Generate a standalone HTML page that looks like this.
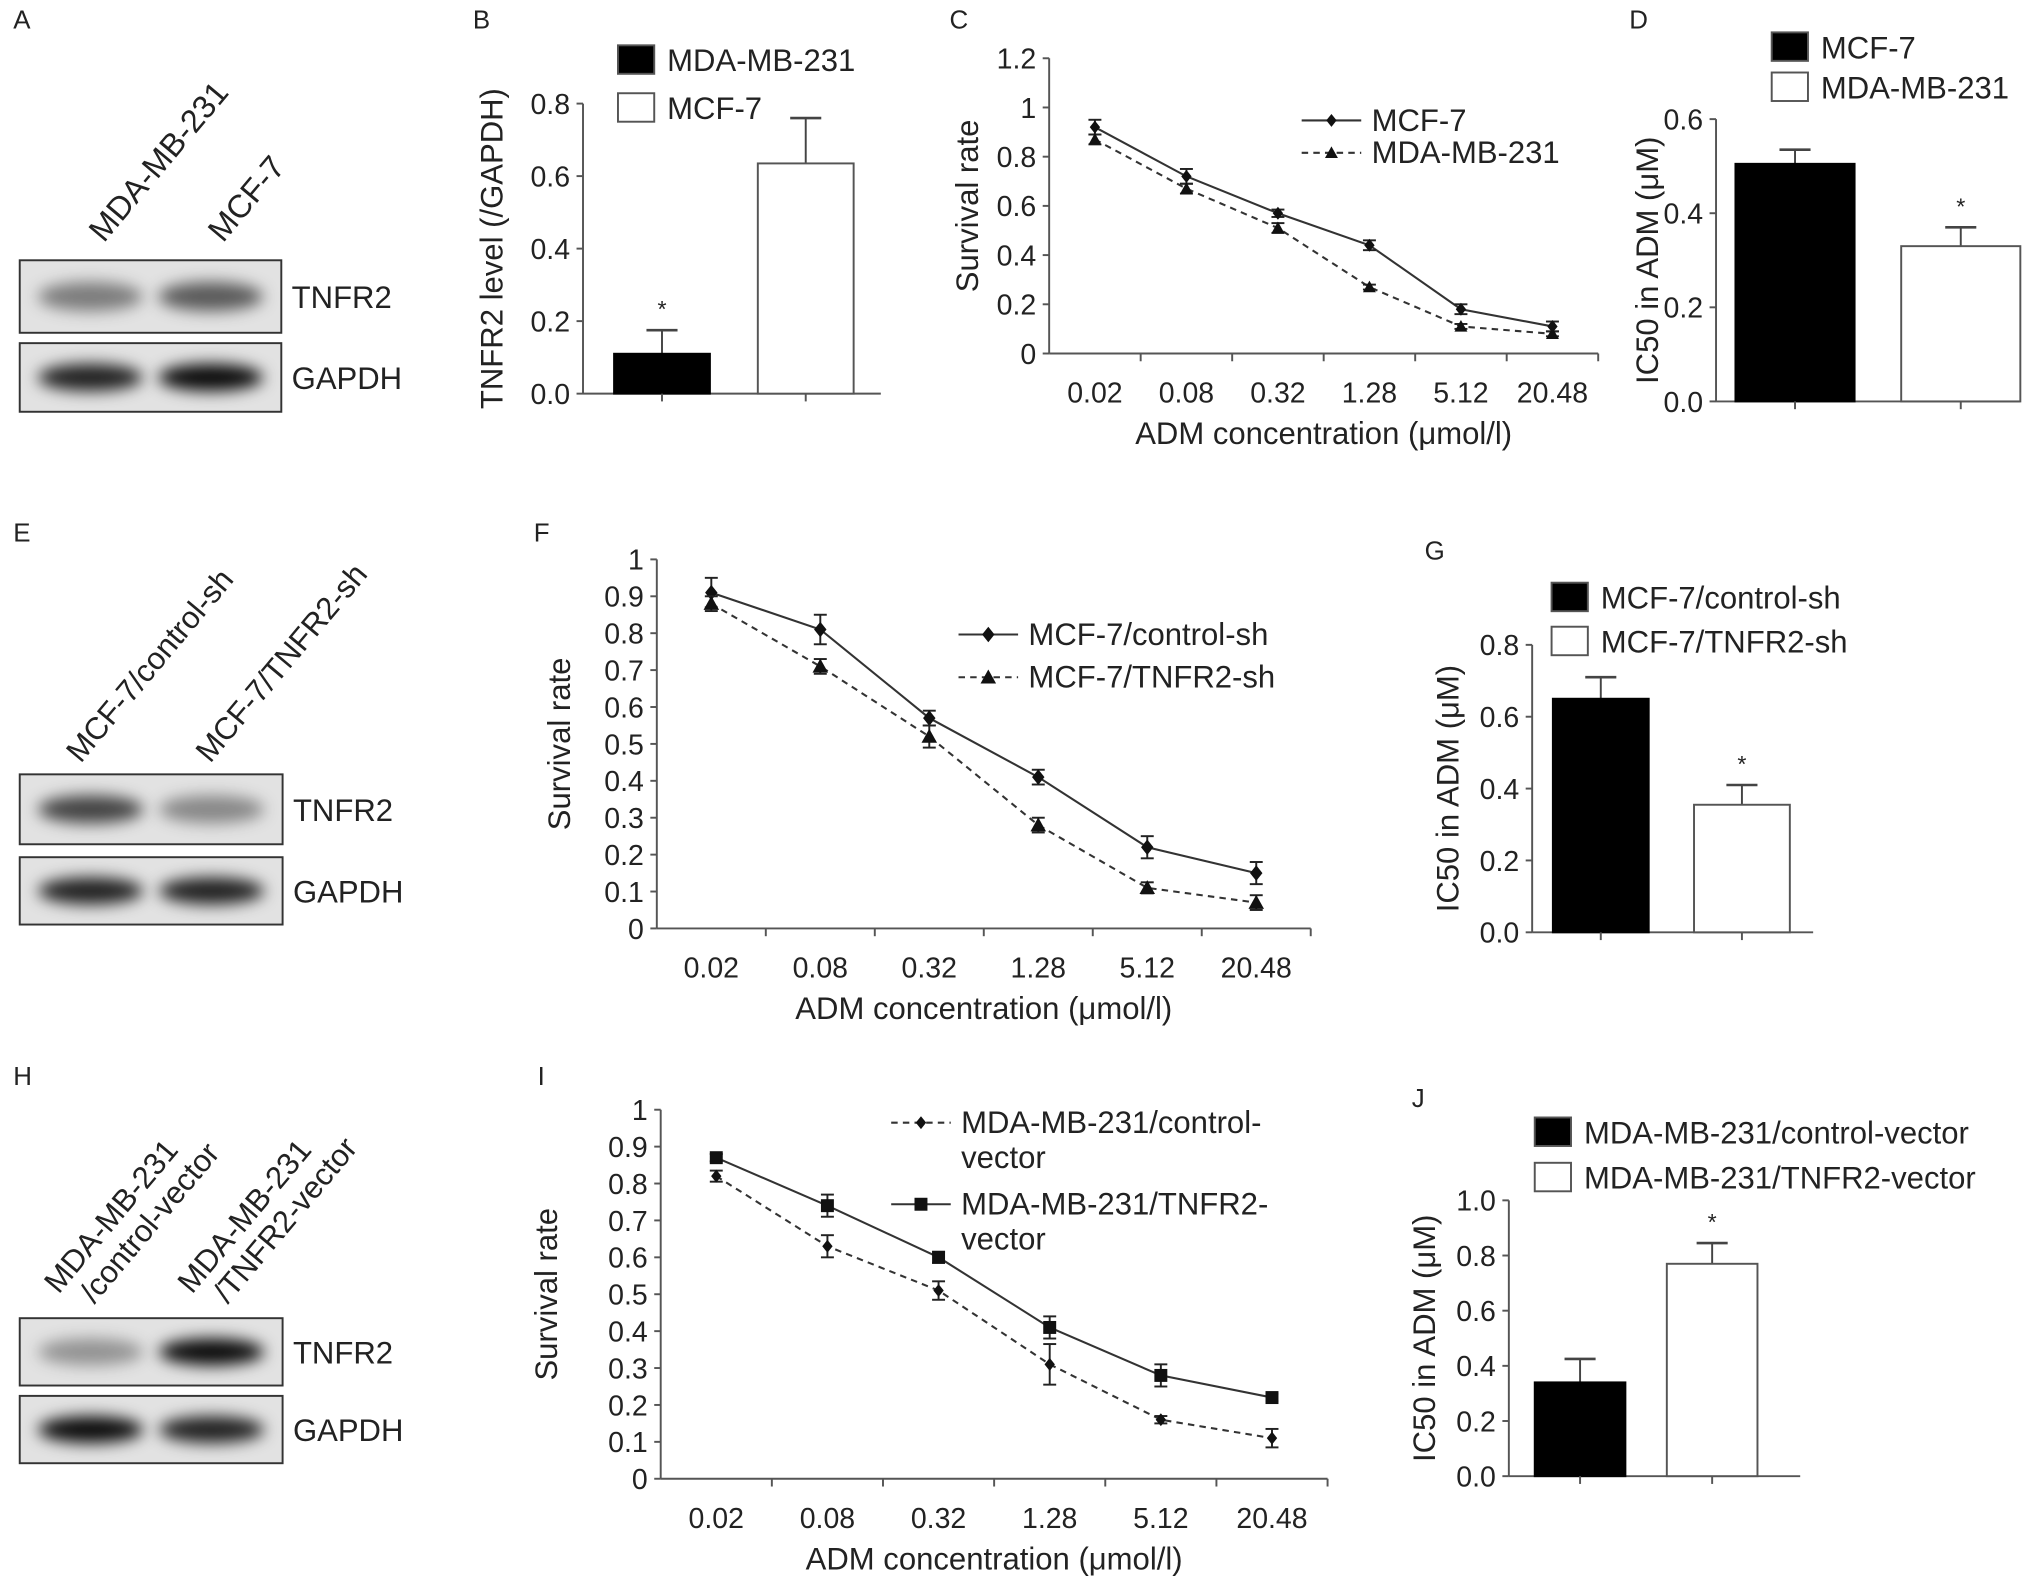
<!DOCTYPE html>
<html><head><meta charset="utf-8"><style>
html,body{margin:0;padding:0;background:#fff;}
svg{display:block;font-family:"Liberation Sans",Arial,sans-serif;}
</style></head><body>
<svg id="fig" width="2031" height="1594" viewBox="0 0 1568 1231" xmlns="http://www.w3.org/2000/svg">
<defs>
<filter id="blur" x="-30%" y="-80%" width="160%" height="260%"><feGaussianBlur stdDeviation="6"/></filter>
</defs>
</svg>
<script>
// ---------- data ----------
const doseLabels = ["0.02","0.08","0.32","1.28","5.12","20.48"];
// Panel B
const bCats = ["MDA-MB-231","MCF-7"];
const bVals = [0.11, 0.635];
const bErr = [0.065, 0.125];
const bTicks = ["0.0","0.2","0.4","0.6","0.8"];
// Panel C
const cMCF7 = [0.92,0.72,0.57,0.44,0.18,0.11];
const cMCF7Err = [0.03,0.03,0.015,0.02,0.02,0.02];
const cMDA = [0.87,0.67,0.51,0.27,0.11,0.08];
const cMDAErr = [0.02,0.02,0.02,0.01,0.01,0.01];
const cTicks = ["0","0.2","0.4","0.6","0.8","1","1.2"];
// Panel D
const dVals = [0.505, 0.33];
const dErr = [0.03, 0.04];
const dTicks = ["0.0","0.2","0.4","0.6"];
// Panel F
const fCtrl = [0.91,0.81,0.57,0.41,0.22,0.15];
const fCtrlErr = [0.04,0.04,0.02,0.02,0.03,0.03];
const fSh = [0.88,0.71,0.52,0.28,0.11,0.07];
const fShErr = [0.02,0.02,0.03,0.02,0.015,0.02];
const lineTicks = ["0","0.1","0.2","0.3","0.4","0.5","0.6","0.7","0.8","0.9","1"];
// Panel G
const gVals = [0.65, 0.355];
const gErr = [0.06, 0.055];
const gTicks = ["0.0","0.2","0.4","0.6","0.8"];
// Panel I
const iCtrl = [0.82,0.63,0.51,0.31,0.16,0.11];
const iCtrlErr = [0.015,0.03,0.025,0.055,0.01,0.025];
const iTnfr = [0.87,0.74,0.60,0.41,0.28,0.22];
const iTnfrErr = [0.01,0.03,0.015,0.03,0.03,0.01];
// Panel J
const jVals = [0.34, 0.77];
const jErr = [0.085, 0.075];
const jTicks = ["0.0","0.2","0.4","0.6","0.8","1.0"];

// ---------- helpers ----------
const NS="http://www.w3.org/2000/svg";
const svg=document.getElementById('fig');
function el(tag,attrs,parent,text){
  const e=document.createElementNS(NS,tag);
  for(const k in attrs) e.setAttribute(k,attrs[k]);
  if(text!==undefined) e.textContent=text;
  (parent||svg).appendChild(e);
  return e;
}
function grp(name){
  const g=el('g',{});
  
  
  return g;
}
function txt(parent,x,y,s,size,anchor,name,extra){
  const a=Object.assign({x:x,y:y,'font-size':size,'text-anchor':anchor||'start',fill:'#222'},extra||{});
  const t=el('text',a,parent,s);
  
  
  return t;
}
const AX='#555';
function yAxis(g,x,y0,y1,ticks,vmax,xEnd){
  el('line',{x1:x,y1:y0,x2:x,y2:y1,stroke:AX,'stroke-width':1.5},g);
  el('line',{x1:x,y1:y0,x2:xEnd,y2:y0,stroke:AX,'stroke-width':1.5},g);
  ticks.forEach((t,i)=>{
    const v=vmax*i/(ticks.length-1);
    const y=y0-(y0-y1)*v/vmax;
    el('line',{x1:x-5,y1:y,x2:x,y2:y,stroke:AX,'stroke-width':1.5},g);
    txt(g,x-10,y+8,t,22,'end','y-tick-label');
  });
}
function panelLetter(x,y,s){
  txt(svg,x,y,s,20,'start','panel-label-'+s.toLowerCase());
}
function blot(name,x,y,w,h,i1,i2,label){
  const g=grp(name);
  el('rect',{x:x,y:y,width:w,height:h,fill:'#e2e2e2',stroke:'#333','stroke-width':1.5},g);
  const cx1=x+w*0.27,cx2=x+w*0.73;
  el('ellipse',{cx:cx1,cy:y+h*0.5,rx:w*0.2,ry:h*0.2,fill:'#000','fill-opacity':i1,filter:'url(#blur)'},g);
  el('ellipse',{cx:cx2,cy:y+h*0.5,rx:w*0.2,ry:h*0.2,fill:'#000','fill-opacity':i2,filter:'url(#blur)'},g);
  txt(g,x+w+8,y+h/2+9,label,24,'start','band-label');
}
function rotLabel(x,y,lines,name,fs){
  const g=grp(name);
  const t=el('text',{transform:`translate(${x},${y}) rotate(-50)`,'font-size':fs||24,fill:'#222'},g);
  lines.forEach((s,i)=>{el('tspan',{x:i*12,dy:i?26:0},t,s);});
}
function barChart(o){
  const g=grp(o.name);
  const {ax,y0,y1,vmax}=o;
  const sy=v=>y0-(y0-y1)*v/vmax;
  yAxis(g,ax,y0,y1,o.ticks,vmax,o.xEnd);
  o.vals.forEach((v,i)=>{
    const x=o.barX[i];
    const cx=x+o.bw/2;
    el('line',{x1:cx,y1:sy(v),x2:cx,y2:sy(v+o.err[i]),stroke:'#444','stroke-width':1.5},g);
    el('line',{x1:cx-12,y1:sy(v+o.err[i]),x2:cx+12,y2:sy(v+o.err[i]),stroke:'#444','stroke-width':2},g);
    const r=el('rect',{x:x,y:sy(v),width:o.bw,height:y0-sy(v),fill:i===0?'#000':'#fff',stroke:i===0?'#000':'#555','stroke-width':1.5},g);
    
    
    el('line',{x1:cx,y1:y0,x2:cx,y2:y0+6,stroke:AX,'stroke-width':1.5},g);
    if(o.star===i) txt(g,cx,sy(v+o.err[i])-10,'*',18,'middle','significance-star');
  });
  o.legend.forEach((s,i)=>{
    const ly=o.legY+i*o.legDy;
    el('rect',{x:o.legX,y:ly,width:28,height:22,fill:i===o.legBlack?'#000':'#fff',stroke:'#555','stroke-width':1.5},g);
    txt(g,o.legX+38,ly+20,s,24,'start','legend-entry');
  });
  txt(g,0,0,o.ytitle,24,'middle','y-axis-title',{transform:`translate(${o.ytx},${(y0+y1)/2}) rotate(-90)`});
}
function lineChart(o){
  const g=grp(o.name);
  const {ax,y0,y1,vmax}=o;
  const sy=v=>y0-(y0-y1)*v/vmax;
  const n=doseLabels.length;
  const step=(o.xEnd-ax)/n;
  const sx=i=>ax+step*(i+0.5);
  yAxis(g,ax,y0,y1,o.ticks,vmax,o.xEnd);
  for(let i=1;i<=n;i++) el('line',{x1:ax+step*i,y1:y0,x2:ax+step*i,y2:y0+6,stroke:AX,'stroke-width':1.5},g);
  doseLabels.forEach((s,i)=>txt(g,sx(i),y0+38,s,22,'middle','x-tick-label'));
  o.series.forEach((s,k)=>{
    const pts=s.vals.map((v,i)=>sx(i)+','+sy(v)).join(' ');
    const pl=el('polyline',{points:pts,fill:'none',stroke:'#333','stroke-width':1.6,'stroke-dasharray':s.dash?'5,4':'none'},g);
    
    
    s.vals.forEach((v,i)=>{
      const x=sx(i),e=s.err[i];
      el('line',{x1:x,y1:sy(v-e),x2:x,y2:sy(v+e),stroke:'#222','stroke-width':1.5},g);
      el('line',{x1:x-5,y1:sy(v-e),x2:x+5,y2:sy(v-e),stroke:'#222','stroke-width':1.5},g);
      el('line',{x1:x-5,y1:sy(v+e),x2:x+5,y2:sy(v+e),stroke:'#222','stroke-width':1.5},g);
      marker(g,s.m,x,sy(v),s.ms);
    });
    const ly=o.legY+k*o.legDy;
    el('line',{x1:o.legX,y1:ly,x2:o.legX+46,y2:ly,stroke:'#333','stroke-width':1.6,'stroke-dasharray':s.dash?'5,4':'none'},g);
    marker(g,s.m,o.legX+23,ly,s.ms);
    s.label.forEach((t,j)=>txt(g,o.legX+54,ly+8+j*27,t,o.fs||24,'start','legend-entry'));
  });
  txt(g,(ax+o.xEnd)/2,y0+70,'ADM concentration (\u03bcmol/l)',24,'middle','x-axis-title');
  txt(g,0,0,'Survival rate',24,'middle','y-axis-title',{transform:`translate(${o.ytx},${(y0+y1)/2}) rotate(-90)`});
}
function marker(g,m,x,y,s){
  let e;
  if(m==='d') e=el('polygon',{points:`${x},${y-s} ${x+s*0.8},${y} ${x},${y+s} ${x-s*0.8},${y}`,fill:'#111'},g);
  else if(m==='t') e=el('polygon',{points:`${x},${y-s} ${x+s},${y+s*0.8} ${x-s},${y+s*0.8}`,fill:'#111'},g);
  else e=el('rect',{x:x-s,y:y-s,width:2*s,height:2*s,fill:'#111'},g);
  
  
}

// ---------- Panel A ----------
panelLetter(10,22,'A');
rotLabel(80,188,['MDA-MB-231'],'lane-label-mda',25);
rotLabel(172,188,['MCF-7'],'lane-label-mcf7',25);
blot('blot-a-tnfr2',15,201,202,56,0.45,0.6,'TNFR2');
blot('blot-a-gapdh',15,265,202,53,0.85,0.95,'GAPDH');

// ---------- Panel B ----------
panelLetter(365,22,'B');
barChart({name:'chart-b',ax:450,y0:304,y1:80,vmax:0.8,ticks:bTicks,xEnd:680,vals:bVals,err:bErr,barX:[474,585],bw:74,star:0,
  legend:bCats,legX:477,legY:35,legDy:37,legBlack:0,ytitle:'TNFR2 level (/GAPDH)',ytx:388});

// ---------- Panel C ----------
panelLetter(733,22,'C');
lineChart({name:'chart-c',ax:810,y0:273,y1:45,vmax:1.2,ticks:cTicks,xEnd:1234,
  series:[{vals:cMCF7,err:cMCF7Err,m:'d',ms:5,dash:false,label:['MCF-7']},{vals:cMDA,err:cMDAErr,m:'t',ms:5,dash:true,label:['MDA-MB-231']}],
  legX:1005,legY:93,legDy:25,ytx:755});

// ---------- Panel D ----------
panelLetter(1258,22,'D');
barChart({name:'chart-d',ax:1325,y0:310,y1:92,vmax:0.6,ticks:dTicks,xEnd:1560,vals:dVals,err:dErr,barX:[1340,1468],bw:92,star:1,
  legend:['MCF-7','MDA-MB-231'],legX:1368,legY:25,legDy:31,legBlack:0,ytitle:'IC50 in ADM (\u03bcM)',ytx:1280});

// ---------- Panel E ----------
panelLetter(10,418,'E');
rotLabel(62,590,['MCF-7/control-sh'],'lane-label-control-sh',24);
rotLabel(162,590,['MCF-7/TNFR2-sh'],'lane-label-tnfr2-sh',24);
blot('blot-e-tnfr2',15,598,203,54,0.7,0.4,'TNFR2');
blot('blot-e-gapdh',15,662,203,52,0.85,0.85,'GAPDH');

// ---------- Panel F ----------
panelLetter(412,418,'F');
lineChart({name:'chart-f',ax:507,y0:717,y1:432,vmax:1,ticks:lineTicks,xEnd:1012,
  series:[{vals:fCtrl,err:fCtrlErr,m:'d',ms:6,dash:false,label:['MCF-7/control-sh']},{vals:fSh,err:fShErr,m:'t',ms:6,dash:true,label:['MCF-7/TNFR2-sh']}],
  legX:740,legY:490,legDy:33,ytx:440});

// ---------- Panel G ----------
panelLetter(1100,432,'G');
barChart({name:'chart-g',ax:1183,y0:720,y1:498,vmax:0.8,ticks:gTicks,xEnd:1400,vals:gVals,err:gErr,barX:[1199,1308],bw:74,star:1,
  legend:['MCF-7/control-sh','MCF-7/TNFR2-sh'],legX:1198,legY:450,legDy:34,legBlack:0,ytitle:'IC50 in ADM (\u03bcM)',ytx:1126});

// ---------- Panel H ----------
panelLetter(10,838,'H');
rotLabel(45,1000,['MDA-MB-231','/control-vector'],'lane-label-control-vector',24);
rotLabel(148,1000,['MDA-MB-231','/TNFR2-vector'],'lane-label-tnfr2-vector',24);
blot('blot-h-tnfr2',15,1018,203,52,0.35,0.95,'TNFR2');
blot('blot-h-gapdh',15,1078,203,52,0.95,0.85,'GAPDH');

// ---------- Panel I ----------
panelLetter(415,838,'I');
lineChart({name:'chart-i',ax:510,y0:1142,y1:857,vmax:1,ticks:lineTicks,xEnd:1025,
  series:[{vals:iCtrl,err:iCtrlErr,m:'d',ms:5,dash:true,label:['MDA-MB-231/control-','vector']},{vals:iTnfr,err:iTnfrErr,m:'s',ms:5,dash:false,label:['MDA-MB-231/TNFR2-','vector']}],
  legX:688,legY:867,legDy:63,ytx:430});

// ---------- Panel J ----------
panelLetter(1090,855,'J');
barChart({name:'chart-j',ax:1165,y0:1140,y1:927,vmax:1.0,ticks:jTicks,xEnd:1390,vals:jVals,err:jErr,barX:[1185,1287],bw:70,star:1,
  legend:['MDA-MB-231/control-vector','MDA-MB-231/TNFR2-vector'],legX:1185,legY:863,legDy:35,legBlack:0,ytitle:'IC50 in ADM (\u03bcM)',ytx:1108});
</script>
</body></html>
